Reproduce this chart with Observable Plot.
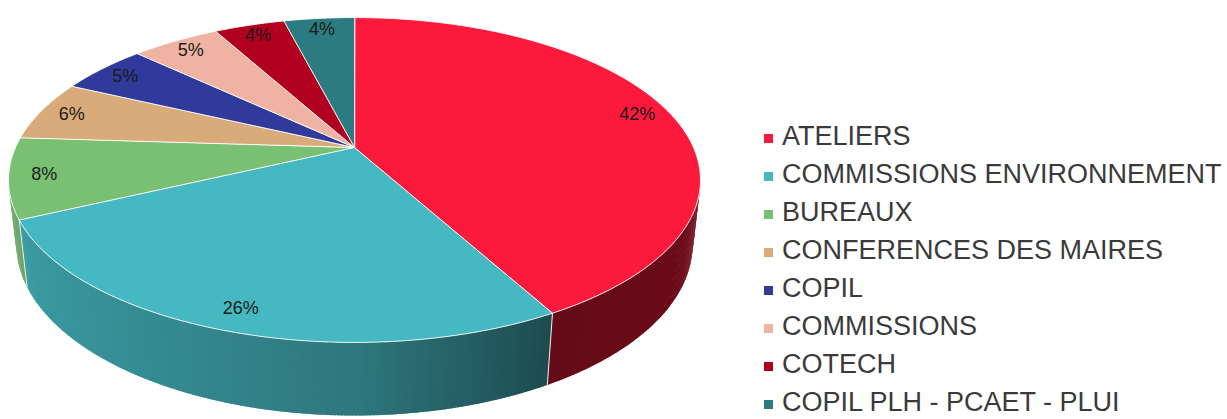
<!DOCTYPE html>
<html><head><meta charset="utf-8">
<script src="https://cdn.jsdelivr.net/npm/d3@7"></script>
<script src="https://cdn.jsdelivr.net/npm/@observablehq/plot@0.6"></script>
<style>
html,body{margin:0;padding:0;background:#fff;}
#wrap{position:relative;width:1227px;height:419px;overflow:hidden;}
#legend{position:absolute;left:764px;top:117px;}
#legend .lg-swatches{font-family:'Liberation Sans',Arial,sans-serif!important;font-size:27px!important;color:#3a3a3a!important;margin:0!important;}
#legend .lg-swatch{height:38px;line-height:30px;padding:0!important;margin:0!important;display:flex;align-items:center;}
#legend .lg-swatch svg{margin-right:9px!important;margin-top:5px;}
#legend span{overflow:visible!important;max-width:none!important;}
</style></head>
<body><div id="wrap"><div id="chart"></div><div id="legend"></div></div>
<script>
// ---- data ----
const categories = ["ATELIERS","COMMISSIONS ENVIRONNEMENT","BUREAUX","CONFERENCES DES MAIRES","COPIL","COMMISSIONS","COTECH","COPIL PLH - PCAET - PLUI"];
const values = [42,26,8,6,5,5,4,4];
const labels = values.map(v => `${v}%`);
const colors = ["#fb1a3c","#46b8c1","#79c073","#d9aa7a","#2f3a9b","#eeb3a2","#b1001f","#2b7b80"];

// ---- layout / 3D projection constants ----
const W = 1227, H = 419, CX = 354, CY = 147, S = 339;
const L = 4.44, SA = 0.46, CA = Math.sqrt(1 - SA*SA), DEPTH = 0.214;
const VIS0 = 102, VIS1 = 258;
function proj(theta, r, h) {
  const a = theta*Math.PI/180, u = r*Math.sin(a), v = -r*Math.cos(a);
  const d = L + h*SA - v*CA;
  return [L*u/d, L*(h*CA + v*SA)/d];
}
const shadeF = d3.scaleLinear().domain([0,0.25,0.5,1]).range([0.44,0.40,0.65,0.86]).clamp(true);
function shade(c, theta) {
  const u = Math.sin(theta*Math.PI/180), t = (1-u)/2, f = shadeF(t), k = d3.rgb(c);
  return d3.rgb(k.r*f, k.g*f, k.b*f).formatHex();
}

const total = d3.sum(values);
const starts = [], ends = [];
let acc = 0;
values.forEach(v => { starts.push(acc/total*360); acc += v; ends.push(acc/total*360); });

const topRows = [], sideRows = [], edgeRows = [], labelRows = [];
categories.forEach((c, i) => {
  const a0 = starts[i], a1 = ends[i];
  const n = Math.max(2, Math.ceil((a1 - a0)/0.5));
  topRows.push({x:0, y:0, z:i, fill:colors[i]});
  for (let k = 0; k <= n; k++) {
    const [x, y] = proj(a0 + (a1-a0)*k/n, 1, 0);
    topRows.push({x, y, z:i, fill:colors[i]});
  }
  const lo = Math.max(a0, VIS0), hi = Math.min(a1, VIS1);
  if (lo < hi) {
    const m = Math.ceil((hi - lo)/0.5);
    for (let k = 0; k < m; k++) {
      const t0 = lo + (hi-lo)*k/m, t1 = Math.min(hi, lo + (hi-lo)*(k+1)/m + 0.35);
      const f = shade(colors[i], (t0+t1)/2), z = `${i}-${k}`;
      [proj(t0,1,0), proj(t1,1,0), proj(t1,1,DEPTH), proj(t0,1,DEPTH)]
        .forEach(([x,y]) => sideRows.push({x, y, z, fill:f}));
    }
  }
  if (a0 > VIS0 && a0 < VIS1) {
    [proj(a0,1,0), proj(a0,1,DEPTH)].forEach(([x,y]) => edgeRows.push({x, y, z:i}));
  }
  const [lx, ly] = proj((a0+a1)/2, 0.9, 0);
  labelRows.push({x:lx, y:ly, text:labels[i]});
});

const chart = Plot.plot({
  width: W, height: H, margin: 0,
  x: {domain: [-CX/S, (W-CX)/S], range: [0, W], axis: null},
  y: {domain: [-CY/S, (H-CY)/S], range: [0, H], axis: null},
  color: {type: "identity"},
  style: {fontFamily: "'Liberation Sans', Arial, sans-serif", background: "white"},
  marks: [
    Plot.line(sideRows, {x:"x", y:"y", z:"z", fill:"fill", stroke:"none", curve:"linear-closed"}),
    Plot.line(edgeRows, {x:"x", y:"y", z:"z", stroke:"#eeeeee", strokeWidth:1}),
    Plot.line(topRows, {x:"x", y:"y", z:"z", fill:"fill", stroke:"white", strokeWidth:1, strokeOpacity:0.9, curve:"linear-closed"}),
    Plot.text(labelRows, {x:"x", y:"y", text:"text", fontSize:18, fill:"#1b1b1b"})
  ]
});
document.getElementById("chart").appendChild(chart);

const legend = Plot.legend({
  color: {type: "ordinal", domain: categories, range: colors},
  legend: "swatches", columns: 1, swatchSize: 9, className: "lg"
});
document.getElementById("legend").appendChild(legend);
</script>
</body></html>
